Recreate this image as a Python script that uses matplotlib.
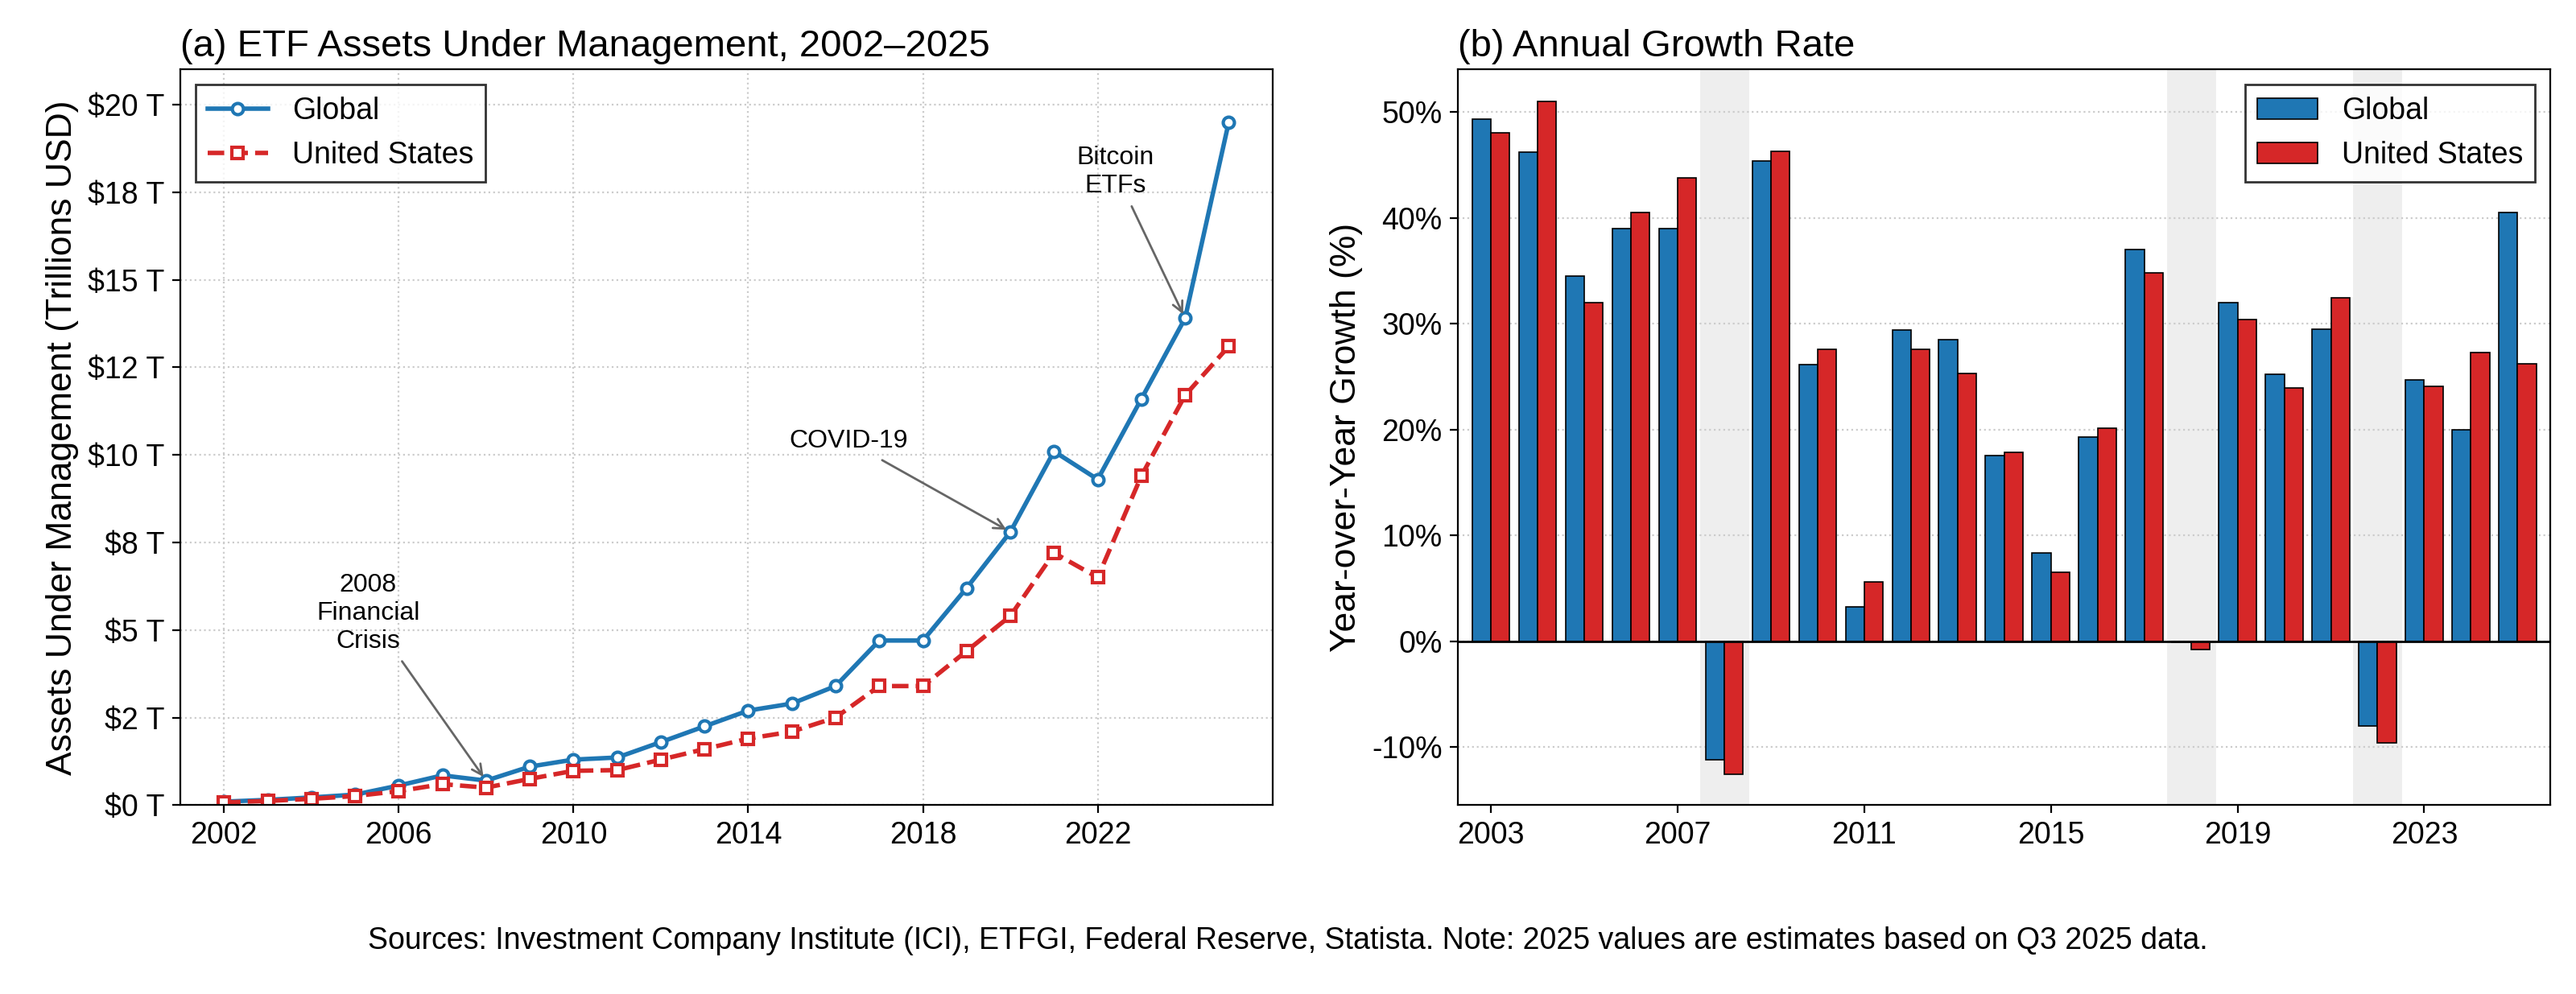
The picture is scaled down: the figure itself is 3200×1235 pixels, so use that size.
import matplotlib.pyplot as plt
import matplotlib.ticker as mticker
import numpy as np

plt.rcParams["font.family"] = ["Liberation Sans", "DejaVu Sans"]
plt.rcParams["font.size"] = 12

years = list(range(2002, 2026))
global_aum = [0.10, 0.15, 0.22, 0.30, 0.56, 0.85, 0.70, 1.10, 1.30, 1.36, 1.80,
              2.25, 2.70, 2.90, 3.40, 4.70, 4.70, 6.20, 7.80, 10.10, 9.30, 11.60,
              13.90, 19.50]
us_aum = [0.08, 0.12, 0.18, 0.26, 0.40, 0.60, 0.50, 0.75, 0.98, 1.00, 1.30,
          1.60, 1.90, 2.10, 2.50, 3.40, 3.40, 4.40, 5.40, 7.20, 6.50, 9.40,
          11.70, 13.10]

growth_years = list(range(2003, 2026))
global_growth = [49.3, 46.2, 34.5, 39.0, 39.0, -11.2, 45.4, 26.1, 3.2, 29.4, 28.5,
                 17.5, 8.3, 19.3, 37.0, -0.1, 32.0, 25.2, 29.5, -8.0, 24.7, 20.0, 40.5]
us_growth = [48.0, 51.0, 32.0, 40.5, 43.8, -12.6, 46.3, 27.6, 5.6, 27.6, 25.3,
             17.8, 6.5, 20.1, 34.8, -0.8, 30.4, 23.9, 32.4, -9.6, 24.1, 27.3, 26.2]
shaded_years = [2008, 2018, 2022]

blue = "#1f77b4"
red = "#d62728"

fig, (ax1, ax2) = plt.subplots(1, 2, figsize=(16, 6.175), dpi=200)

# (a) AUM lines
ax1.plot(years, global_aum, "-o", color=blue, lw=2, ms=5, mfc="white", mew=1.5, label="Global")
ax1.plot(years, us_aum, "--s", color=red, lw=2, ms=5, mfc="white", mew=1.5, label="United States")
ax1.set_ylim(0, 21)
ax1.set_xlim(2001, 2026)
ax1.yaxis.set_major_locator(mticker.MultipleLocator(2.5))
ax1.yaxis.set_major_formatter(mticker.FuncFormatter(lambda v, p: f"${round(v)} T"))
ax1.set_xticks(range(2002, 2025, 4))
ax1.set_ylabel("Assets Under Management (Trillions USD)", fontsize=16)
ax1.set_title("(a) ETF Assets Under Management, 2002–2025", loc="left", fontsize=17)
ax1.grid(True, ls=":", color="#cccccc", lw=0.8)
ax1.legend(loc="upper left", fancybox=False, edgecolor="black", fontsize=13.5)
arrow = dict(arrowstyle="->", color="#666666", lw=1)
ax1.annotate("2008\nFinancial\nCrisis", xy=(2008, global_aum[6]), xytext=(2005.3, 4.5),
             ha="center", fontsize=11.5, arrowprops=arrow)
ax1.annotate("COVID-19", xy=(2020, global_aum[18]), xytext=(2016.3, 10.2),
             ha="center", fontsize=11.5, arrowprops=arrow)
ax1.annotate("Bitcoin\nETFs", xy=(2024, global_aum[22]), xytext=(2022.4, 17.5),
             ha="center", fontsize=11.5, arrowprops=arrow)

# (b) growth bars
x = np.array(growth_years)
w = 0.4
for yr in shaded_years:
    ax2.axvspan(yr - 0.5, yr + 0.5, color="#eeeeee", zorder=0)
ax2.bar(x - w / 2, global_growth, w, color=blue, edgecolor="black", lw=0.6, label="Global", zorder=2)
ax2.bar(x + w / 2, us_growth, w, color=red, edgecolor="black", lw=0.6, label="United States", zorder=2)
ax2.axhline(0, color="black", lw=1, zorder=3)
ax2.set_xlim(2002.3, 2025.7)
ax2.set_ylim(-15.5, 54)
ax2.set_xticks(range(2003, 2026, 4))
ax2.yaxis.set_major_formatter(mticker.FuncFormatter(lambda v, p: f"{v:.0f}%"))
ax2.set_ylabel("Year-over-Year Growth (%)", fontsize=16)
ax2.set_title("(b) Annual Growth Rate", loc="left", fontsize=17)
ax2.grid(True, axis="y", ls=":", color="#cccccc", lw=0.8)
ax2.set_axisbelow(True)
ax2.legend(loc="upper right", fancybox=False, edgecolor="black", fontsize=13.5)

for ax in (ax1, ax2):
    ax.tick_params(labelsize=13.5)

fig.text(0.5, 0.045, "Sources: Investment Company Institute (ICI), ETFGI, Federal Reserve, Statista. "
         "Note: 2025 values are estimates based on Q3 2025 data.", ha="center", fontsize=13.5)
fig.subplots_adjust(left=0.07, right=0.99, top=0.93, bottom=0.19, wspace=0.17)
fig.savefig("out.png", dpi=200)
